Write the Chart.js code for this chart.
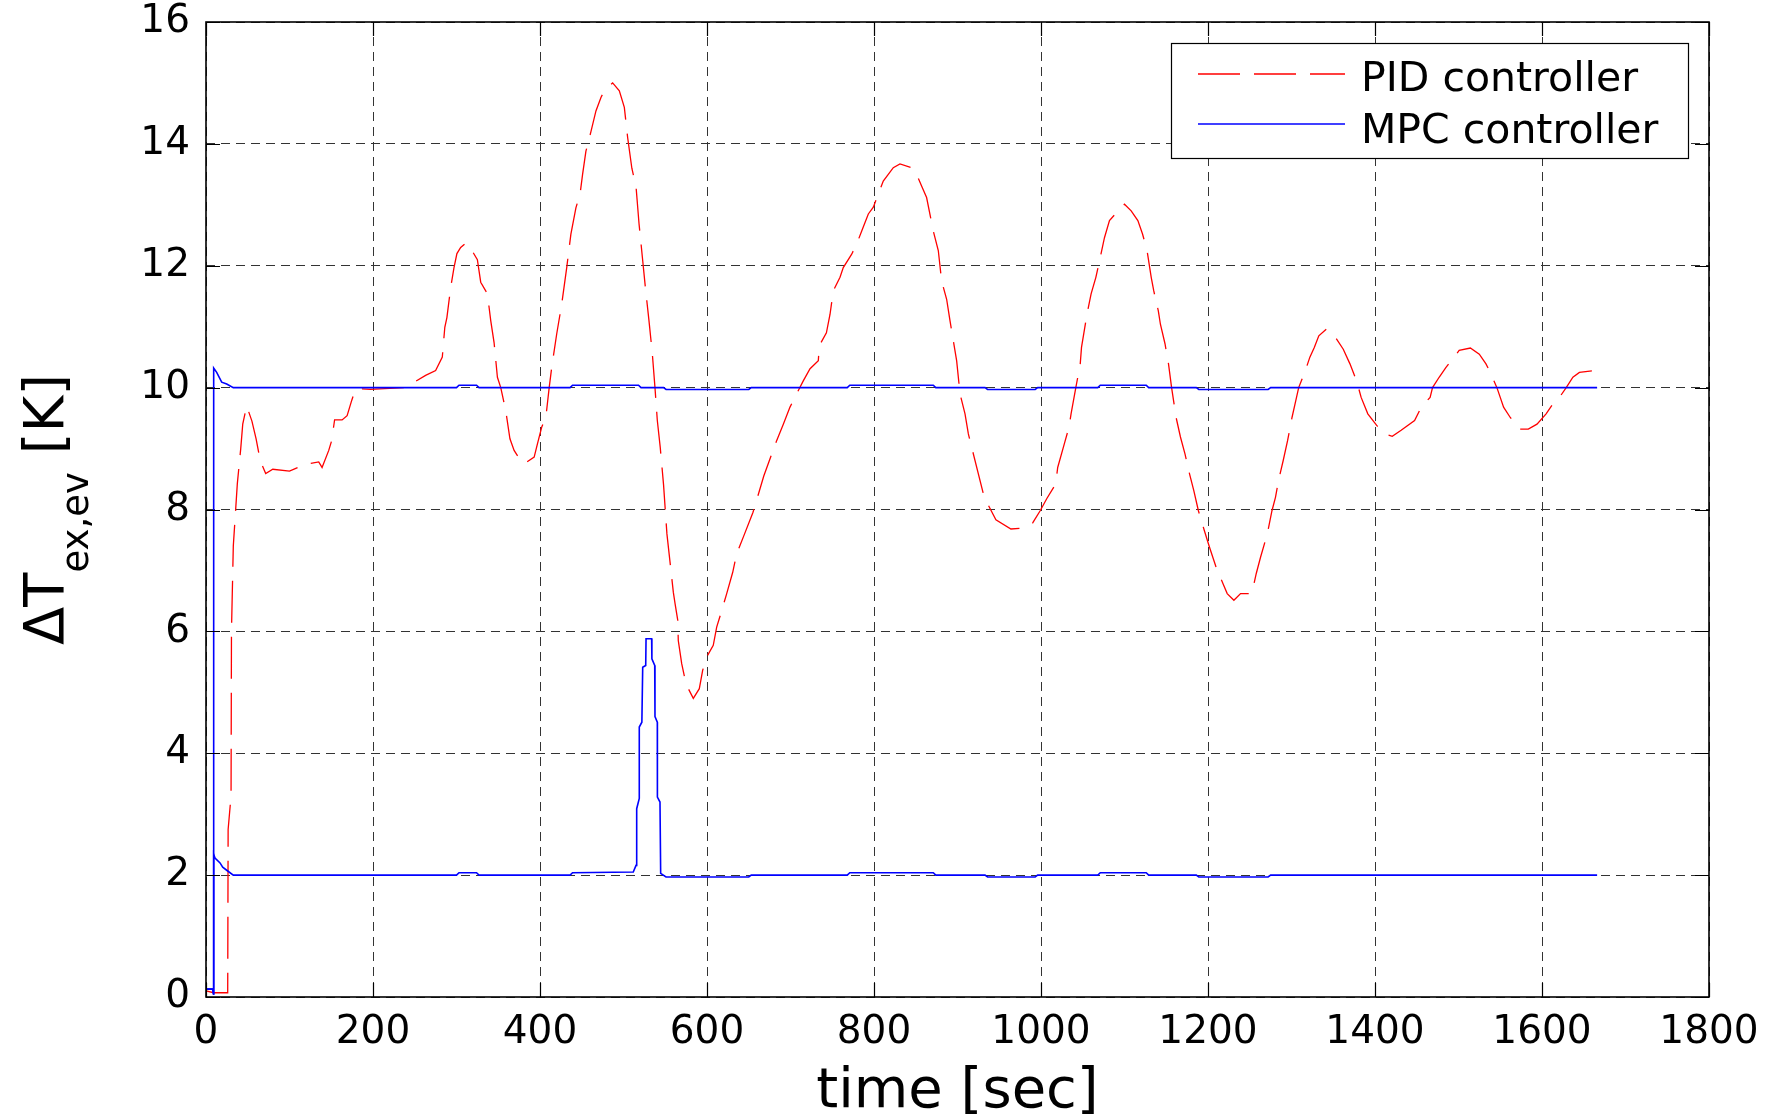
<!DOCTYPE html>
<html lang="en">
<head>
  <meta charset="UTF-8" />
  <title>PID vs MPC superheat</title>
  <style>
    body {
      margin: 0;
      background: #fff;
    }

    #wrap {
      width: 1773px;
      height: 1119px;
    }
  </style>
</head>
<body>

<div id="wrap">
  <canvas id="deltaChart" width="1773" height="1119"></canvas>
</div>

<script src="https://cdn.jsdelivr.net/npm/chart.js"></script>

<script>
  // PID controller response, time [sec] / delta T [K]
  const pidTime = [
    0, 9, 26, 26.5, 30, 30.5, 32.7, 37.5, 41.6, 44, 48.7, 55, 60, 65, 71.5, 80, 100, 119, 135, 139,
    147, 150.5, 154, 163, 169, 174.5, 179, 187, 197, 237, 247, 263, 275, 283, 286, 288.5, 293, 297, 300.5, 305,
    311, 315, 325, 329, 337, 341, 345, 349, 353, 359, 364, 369, 375, 381, 393, 397, 402, 407, 411, 414,
    420, 426, 432, 437, 443, 448, 451, 455, 461, 467, 473, 477, 487, 495, 501, 505, 510, 515, 518.6, 522.6,
    526.6, 530.5, 534.5, 537.7, 540.5, 544, 548, 552, 555.7, 559.7, 561.7, 565, 565.6, 569.7, 573.6, 577.6, 583.6, 590.8, 594.8, 599.6,
    607.5, 611.6, 617.6, 623.6, 630.8, 635.5, 645, 655, 668, 683.4, 691.4, 699.4, 707.4, 715.3, 723.4, 733.3, 734.5, 743, 747.3, 751.3,
    759.3, 763.2, 773.3, 779.3, 785.3, 793.2, 799.2, 805.2, 811.1, 817.1, 823.1, 831.1, 845, 851, 857, 863, 871, 877, 881, 887,
    891, 895, 899, 903, 909, 913, 932, 946, 964, 975, 990, 999, 1007, 1017.6, 1020, 1028, 1033.5, 1036, 1041.7, 1047,
    1048.5, 1055, 1060, 1065.7, 1071, 1076, 1082, 1089, 1100, 1108, 1116, 1121.6, 1127, 1132, 1135, 1140.5, 1143, 1148.5, 1152.7, 1156.4,
    1161.8, 1167, 1172.5, 1177.8, 1183, 1188.5, 1195.5, 1201.8, 1209.8, 1218, 1223, 1231, 1239, 1252.5, 1257.8, 1263, 1271, 1276.6, 1280.8, 1284.5,
    1290, 1295.3, 1300.6, 1306, 1308.6, 1316.6, 1322, 1327.3, 1332.7, 1341.7, 1351.4, 1362, 1370, 1378, 1383.4, 1391.4, 1402, 1412.7, 1420.7, 1431.3,
    1447.4, 1455.4, 1466, 1468.9, 1476.8, 1484.8, 1492.8, 1500.8, 1514.2, 1524.9, 1532.9, 1538, 1546, 1554, 1562, 1573, 1583.6, 1594, 1604.9, 1613,
    1620.9, 1629, 1637, 1644.8, 1664
  ];
  const pidDelta = [
    0.1, 0.07, 0.07, 2.75, 3.3, 6.0, 7.4, 8.42, 9.0, 9.4, 9.7, 9.45, 9.16, 8.8, 8.59, 8.66, 8.63, 8.74, 8.78, 8.69,
    8.97, 9.13, 9.47, 9.47, 9.54, 9.79, 9.97, 9.98, 9.97, 10.0, 10.07, 10.2, 10.28, 10.5, 10.99, 11.15, 11.64, 11.97, 12.2, 12.3,
    12.37, 12.33, 12.1, 11.73, 11.54, 11.1, 10.74, 10.17, 10.0, 9.62, 9.16, 8.97, 8.84, 8.75, 8.86, 9.08, 9.35, 9.51, 10.0, 10.33,
    10.88, 11.37, 11.97, 12.52, 12.95, 13.18, 13.5, 13.88, 14.2, 14.54, 14.76, 14.87, 15.0, 14.87, 14.6, 14.1, 13.6, 13.3, 12.69, 12.14,
    11.59, 11.1, 10.56, 10.0, 9.46, 9.02, 8.4, 7.6, 7.14, 6.64, 6.46, 6.18, 5.85, 5.47, 5.22, 5.06, 4.9, 5.06, 5.36, 5.58,
    5.77, 6.07, 6.34, 6.62, 6.97, 7.27, 7.6, 7.95, 8.55, 9.13, 9.4, 9.68, 9.9, 10.11, 10.31, 10.44, 10.69, 10.9, 11.2, 11.59,
    11.81, 11.97, 12.19, 12.36, 12.57, 12.85, 12.96, 13.18, 13.39, 13.5, 13.61, 13.67, 13.61, 13.5, 13.31, 13.12, 12.57, 12.25, 11.75, 11.45,
    11.1, 10.77, 10.44, 9.9, 9.57, 9.24, 8.2, 7.83, 7.68, 7.69, 7.78, 7.98, 8.18, 8.42, 8.69, 9.08, 9.35, 9.57, 10.0, 10.39,
    10.66, 11.2, 11.54, 11.81, 12.14, 12.46, 12.74, 12.85, 13.01, 12.9, 12.74, 12.52, 12.25, 11.81, 11.59, 11.26, 11.04, 10.72, 10.39, 10.0,
    9.51, 9.19, 8.91, 8.59, 8.31, 7.98, 7.66, 7.38, 7.05, 6.78, 6.62, 6.51, 6.62, 6.62, 6.95, 7.22, 7.6, 7.98, 8.2, 8.48,
    8.8, 9.13, 9.51, 9.84, 10.0, 10.28, 10.5, 10.66, 10.85, 10.96, 10.85, 10.63, 10.39, 10.11, 9.84, 9.57, 9.38, 9.24, 9.2, 9.3,
    9.46, 9.68, 9.84, 10.0, 10.17, 10.33, 10.47, 10.61, 10.65, 10.55, 10.39, 10.25, 10.0, 9.68, 9.51, 9.32, 9.32, 9.4, 9.57, 9.73,
    9.84, 10.0, 10.17, 10.25, 10.28
  ];

  // MPC controller, setpoint 10 K run
  const mpcHighTime = [
    0, 8, 9, 9.2, 12.8, 18.8, 24.8, 32.7, 300, 303, 324, 327, 436, 439, 518, 521, 548, 551, 650, 653,
    768, 771, 871, 874, 933, 936, 993, 996, 1068, 1071, 1126, 1129, 1186, 1189, 1272, 1275, 1666
  ];
  const mpcHighDelta = [
    0.13, 0.13, 0.05, 10.32, 10.25, 10.09, 10.06, 10.0, 10.0, 10.04, 10.04, 10.0, 10.0, 10.04, 10.04, 10.0, 10.0, 9.97, 9.97, 10.0,
    10.0, 10.04, 10.04, 10.0, 10.0, 9.97, 9.97, 10.0, 10.0, 10.04, 10.04, 10.0, 10.0, 9.97, 9.97, 10.0, 10.0
  ];

  // MPC controller, setpoint 2 K run
  const mpcLowTime = [
    0, 8, 9, 9.2, 10.8, 16.8, 20, 24.8, 32.7, 300, 303, 324, 327, 436, 439, 511.7, 515, 515.8, 518.9, 518.9,
    522, 523, 526.6, 527, 533.7, 534, 537.4, 537.7, 540.5, 540.6, 543.7, 544.5, 550.9, 650, 653, 768, 771, 871, 874, 933,
    936, 993, 996, 1068, 1071, 1126, 1129, 1186, 1189, 1272, 1275, 1666
  ];
  const mpcLowDelta = [
    0.13, 0.13, 0.05, 2.34, 2.28, 2.2, 2.13, 2.08, 2.0, 2.0, 2.04, 2.04, 2.0, 2.0, 2.04, 2.05, 2.16, 3.09, 3.26, 4.43,
    4.51, 5.41, 5.44, 5.88, 5.88, 5.55, 5.44, 4.6, 4.51, 3.28, 3.2, 2.03, 1.97, 1.97, 2.0, 2.0, 2.04, 2.04, 2.0, 2.0,
    1.97, 1.97, 2.0, 2.0, 2.04, 2.04, 2.0, 2.0, 1.97, 1.97, 2.0, 2.0
  ];

  const xTicks = [0, 200, 400, 600, 800, 1000, 1200, 1400, 1600, 1800];
  const yTicks = [0, 2, 4, 6, 8, 10, 12, 14, 16];

  const FONT = "'DejaVu Sans', sans-serif";

  function toPoints(ts, vs) {
    return ts.map((t, i) => ({ x: t, y: vs[i] }));
  }

  // frame, inward ticks, boxed legend and axis titles (matlab look)
  const matlabLook = {
    id: 'matlabLook',
    afterDraw(chart) {
      const { ctx, chartArea: a, scales } = chart;
      const xs = scales.x, ys = scales.y;

      ctx.save();
      ctx.setLineDash([]);
      ctx.strokeStyle = '#000';

      // ticks pointing inward
      ctx.lineWidth = 1.2;
      ctx.beginPath();
      xTicks.forEach(v => {
        const px = Math.round(xs.getPixelForValue(v)) + 0.5;
        ctx.moveTo(px, a.bottom); ctx.lineTo(px, a.bottom - 14);
        ctx.moveTo(px, a.top); ctx.lineTo(px, a.top + 14);
      });
      yTicks.forEach(v => {
        const py = Math.round(ys.getPixelForValue(v)) + 0.5;
        ctx.moveTo(a.left, py); ctx.lineTo(a.left + 14, py);
        ctx.moveTo(a.right, py); ctx.lineTo(a.right - 14, py);
      });
      ctx.stroke();

      ctx.lineWidth = 1.6;
      ctx.strokeRect(a.left, a.top, a.right - a.left, a.bottom - a.top);

      // legend box
      const lg = { x: 1171, y: 43, w: 517, h: 115 };
      ctx.fillStyle = '#fff';
      ctx.fillRect(lg.x, lg.y, lg.w, lg.h);
      ctx.lineWidth = 1.2;
      ctx.strokeRect(lg.x + 0.5, lg.y + 0.5, lg.w, lg.h);

      const items = chart.data.datasets.filter(d => d.inLegend);
      ctx.font = '41px ' + FONT;
      ctx.textBaseline = 'alphabetic';
      ctx.textAlign = 'left';
      items.forEach((d, i) => {
        const ly = lg.y + 31 + i * 50;
        ctx.strokeStyle = d.borderColor;
        ctx.lineWidth = d.borderWidth;
        ctx.setLineDash(d.borderDash || []);
        ctx.beginPath();
        ctx.moveTo(lg.x + 27, ly);
        ctx.lineTo(lg.x + 174, ly);
        ctx.stroke();
        ctx.setLineDash([]);
        ctx.fillStyle = '#000';
        ctx.fillText(d.label, lg.x + 190, ly + 17 + i * 2);
      });

      // x title
      ctx.fillStyle = '#000';
      ctx.font = '56px ' + FONT;
      ctx.textAlign = 'center';
      ctx.textBaseline = 'alphabetic';
      ctx.fillText('time [sec]', (a.left + a.right) / 2, 1107);

      // y title with subscript
      const main = '56px ' + FONT, sub = '37px ' + FONT;
      ctx.font = main;
      const w1 = ctx.measureText('\u0394T').width;
      const w3 = ctx.measureText(' [K]').width;
      ctx.font = sub;
      const w2 = ctx.measureText('ex,ev').width;
      const total = w1 + w2 + w3;
      ctx.translate(63, (a.top + a.bottom) / 2);
      ctx.rotate(-Math.PI / 2);
      ctx.textAlign = 'left';
      let cx = -total / 2;
      ctx.font = main;
      ctx.fillText('\u0394T', cx, 0);
      cx += w1;
      ctx.font = sub;
      ctx.fillText('ex,ev', cx, 25);
      cx += w2;
      ctx.font = main;
      ctx.fillText(' [K]', cx, 0);

      ctx.restore();
    }
  };

  new Chart(document.getElementById('deltaChart'), {
    type: 'line',
    data: {
      datasets: [
        {
          label: 'PID controller',
          data: toPoints(pidTime, pidDelta),
          borderColor: '#ff0000',
          borderWidth: 1.3,
          borderDash: [42, 14],
          order: 1,
          inLegend: true
        },
        {
          label: 'MPC controller',
          data: toPoints(mpcHighTime, mpcHighDelta),
          borderColor: '#0000ff',
          borderWidth: 1.6,
          order: 0,
          inLegend: true
        },
        {
          label: 'MPC controller (2 K)',
          data: toPoints(mpcLowTime, mpcLowDelta),
          borderColor: '#0000ff',
          borderWidth: 1.6,
          order: 0,
          inLegend: false
        }
      ]
    },
    options: {
      responsive: false,
      animation: false,
      parsing: false,
      elements: {
        point: { radius: 0 },
        line: { tension: 0, fill: false }
      },
      layout: {
        padding: { left: 0, right: 64, top: 22, bottom: 0 }
      },
      plugins: {
        legend: { display: false },
        tooltip: { enabled: false }
      },
      scales: {
        x: {
          type: 'linear',
          min: 0,
          max: 1800,
          afterBuildTicks: s => { s.ticks = xTicks.map(v => ({ value: v })); },
          afterFit: s => { s.height = 122; s.paddingLeft = 0; s.paddingRight = 0; },
          grid: { color: '#333', lineWidth: 1, drawTicks: false },
          border: { display: false, dash: [9, 6] },
          ticks: {
            color: '#000',
            padding: 12,
            maxRotation: 0,
            font: { family: FONT, size: 39 },
            callback: v => String(v)
          }
        },
        y: {
          type: 'linear',
          min: 0,
          max: 16,
          afterBuildTicks: s => { s.ticks = yTicks.map(v => ({ value: v })); },
          afterFit: s => { s.width = 206; s.paddingTop = 0; s.paddingBottom = 0; },
          grid: { color: '#333', lineWidth: 1, drawTicks: false },
          border: { display: false, dash: [9, 6] },
          ticks: {
            color: '#000',
            padding: 16,
            font: { family: FONT, size: 39 },
            callback: v => String(v)
          }
        }
      }
    },
    plugins: [matlabLook]
  });
</script>

</body>
</html>
